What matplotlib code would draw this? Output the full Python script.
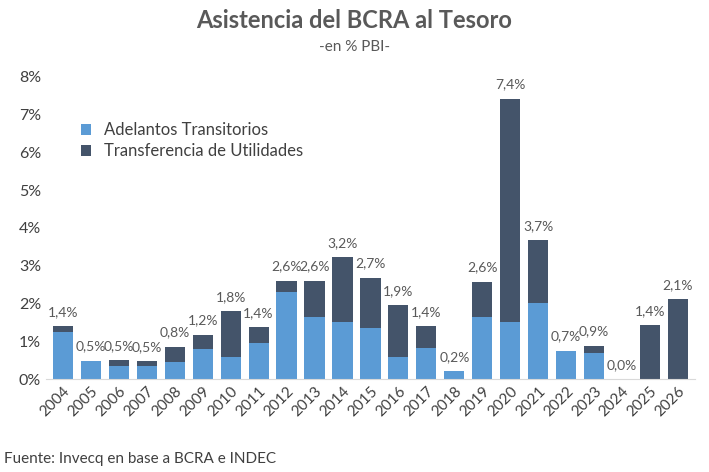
import matplotlib.pyplot as plt
import numpy as np

plt.rcParams['font.family'] = ['Lato', 'DejaVu Sans']

years = [str(y) for y in range(2004, 2027)]
adelantos = [1.25, 0.48, 0.35, 0.35, 0.45, 0.8, 0.58, 0.95, 2.3, 1.65, 1.5, 1.35,
             0.58, 0.83, 0.2, 1.65, 1.5, 2.0, 0.75, 0.68, 0.0, 0.0, 0.0]
total = [1.4, 0.48, 0.5, 0.47, 0.85, 1.17, 1.8, 1.37, 2.6, 2.6, 3.22, 2.68,
         1.95, 1.4, 0.2, 2.58, 7.42, 3.68, 0.75, 0.88, 0.0, 1.42, 2.12]
labels = ["1,4%", "0,5%", "0,5%", "0,5%", "0,8%", "1,2%", "1,8%", "1,4%", "2,6%", "2,6%",
          "3,2%", "2,7%", "1,9%", "1,4%", "0,2%", "2,6%", "7,4%", "3,7%", "0,7%", "0,9%",
          "0,0%", "1,4%", "2,1%"]
utilidades = [t - a for t, a in zip(total, adelantos)]

fig = plt.figure(figsize=(7.09, 4.72), dpi=100)
ax = fig.add_axes([0.065, 0.197, 0.915, 0.64])
x = np.arange(len(years))
ax.bar(x, adelantos, width=0.72, color='#5b9bd5', label='Adelantos Transitorios')
ax.bar(x, utilidades, width=0.72, bottom=adelantos, color='#44546a',
       label='Transferencia de Utilidades')
for xi, t, lab in zip(x, total, labels):
    ax.text(xi, t + 0.22, lab, ha='center', va='bottom', fontsize=10, color='#595959')

ax.set_ylim(0, 8)
ax.set_xlim(-0.6, len(years) - 0.4)
ax.set_yticks(range(9))
ax.set_yticklabels([f"{i}%" for i in range(9)], fontsize=11.5, color='#404040')
ax.set_xticks(x)
ax.set_xticklabels(years, rotation=45, ha='right', rotation_mode='anchor',
                   fontsize=11, color='#404040')
ax.tick_params(length=0)
for s in ['top', 'right', 'left']:
    ax.spines[s].set_visible(False)
ax.spines['bottom'].set_color('#d9d9d9')
ax.legend(loc='upper left', bbox_to_anchor=(0.03, 0.9), frameon=False, fontsize=12,
          handlelength=0.6, handleheight=0.6, labelcolor='#404040', labelspacing=0.3)

fig.text(0.5, 0.94, "Asistencia del BCRA al Tesoro", ha='center', fontsize=17,
         fontweight='bold', color='#595959')
fig.text(0.5, 0.893, "-en % PBI-", ha='center', fontsize=11, color='#595959')
fig.text(0.005, 0.02, "Fuente: Invecq en base a BCRA e INDEC", fontsize=11, color='#404040')

fig.savefig('out.png')
